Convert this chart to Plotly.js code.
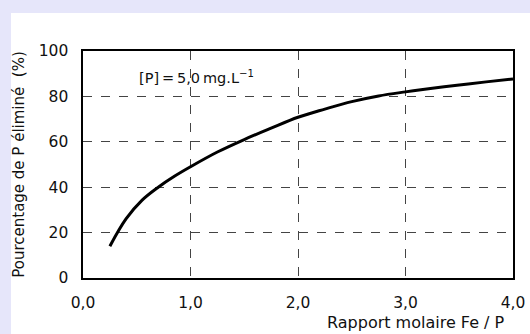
<!DOCTYPE html>
<html><head><meta charset="utf-8">
<script src="https://cdn.plot.ly/plotly-3.0.1.min.js"></script>
<style>html,body{margin:0;padding:0;background:#E6E6FA;}#c{width:530px;height:334px;}</style>
</head><body><div id="c"></div>
<script>
var ratio = [0.25,0.4,0.55,0.7,0.85,1.0,1.25,1.5,1.75,2.0,2.25,2.5,2.75,3.0,3.25,3.5,3.75,4.0];
var removed = [14,26,34.3,40,44.8,49,55.5,61,66,70.8,74.4,77.7,80.2,82,83.6,85,86.4,87.7];
var xTicks = [0,1,2,3,4];
var xTickText = ['0,0','1,0','2,0','3,0','4,0'];
var yTicks = [0,20,40,60,80,100];
var yTickText = ['0','20','40','60','80','100'];
var FONT = 'DejaVu Sans, Liberation Sans, Arial, sans-serif';

var trace = {x: ratio, y: removed, mode: 'lines', type: 'scatter',
  line: {color: '#000', width: 3, shape: 'spline', smoothing: 1}, hoverinfo: 'none'};

var axisCommon = {showline: true, mirror: true, linecolor: '#000', linewidth: 1.6,
  showgrid: true, gridcolor: '#444', gridwidth: 1, griddash: 'dash',
  zeroline: false, ticks: '', tickfont: {family: FONT, size: 15.5, color: '#111'}, fixedrange: true};

var layout = {
  width: 530, height: 334,
  margin: {l: 83, r: 17, t: 51, b: 56},
  paper_bgcolor: '#E6E6FA', plot_bgcolor: '#fff',
  showlegend: false,
  xaxis: Object.assign({}, axisCommon, {range: [0, 4], tickmode: 'array', tickvals: xTicks, ticktext: xTickText, ticklabelstandoff: 10}),
  yaxis: Object.assign({}, axisCommon, {range: [0, 100], tickmode: 'array', tickvals: yTicks, ticktext: yTickText, ticklabelstandoff: 10,
    title: {text: 'Pourcentage de P éliminé  (%)', font: {family: FONT, size: 15, color: '#111'}, standoff: 10}}),
  shapes: [{type: 'rect', xref: 'paper', yref: 'paper', x0: -0.1674, x1: 1.2, y0: -0.4, y1: 1.1674,
    fillcolor: '#fff', line: {width: 0}, layer: 'below'}],
  annotations: [
    {xref: 'paper', yref: 'paper', x: 0.985, y: -0.194, xanchor: 'right', yanchor: 'middle', showarrow: false,
     text: 'Rapport molaire Fe / P', font: {family: FONT, size: 16, color: '#111'}},
    {xref: 'x', yref: 'y', x: 0.5, y: 88.5, xanchor: 'left', yanchor: 'middle', showarrow: false,
     text: '[P]\u2009=\u20095,0\u2009mg.L<sup>\u22121</sup>', font: {family: FONT, size: 14.5, color: '#111'}}
  ]
};
Plotly.newPlot('c', [trace], layout, {staticPlot: true, displayModeBar: false});
</script></body></html>
